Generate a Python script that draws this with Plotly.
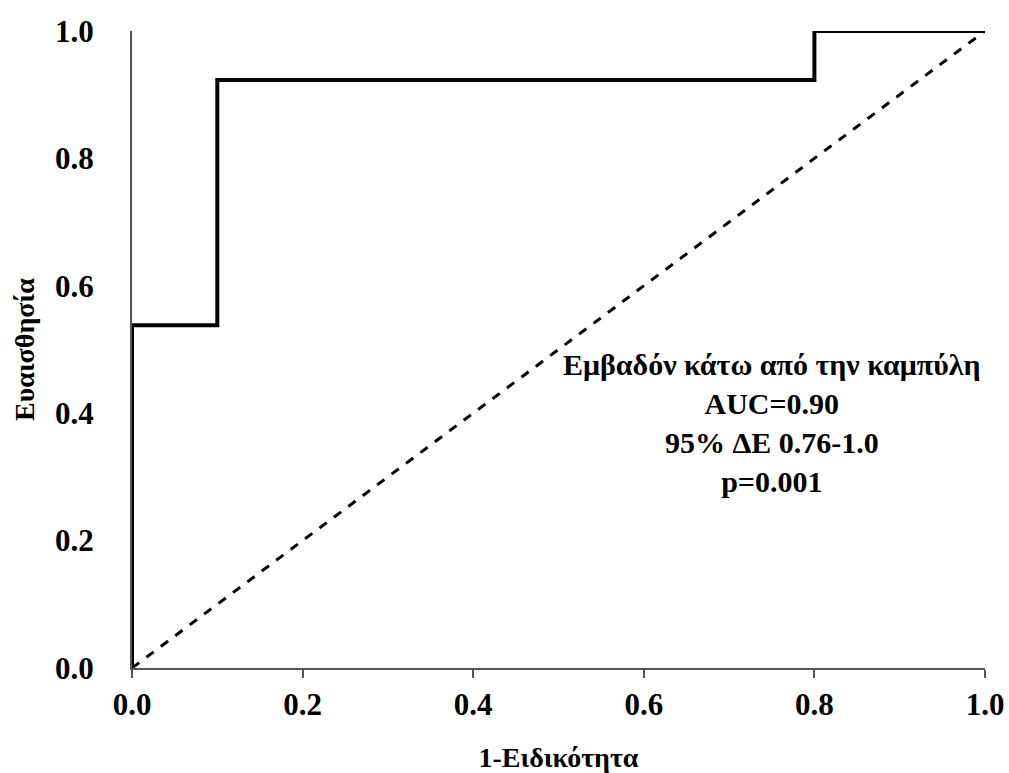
import plotly.graph_objects as go

# ROC curve data (1 - specificity, sensitivity)
fpr = [0.0, 0.0, 0.1, 0.1, 0.8, 0.8, 1.0]
tpr = [0.0, 0.538, 0.538, 0.923, 0.923, 1.0, 1.0]
ref_x = [0.0, 1.0]
ref_y = [0.0, 1.0]
tick_vals = [0.0, 0.2, 0.4, 0.6, 0.8, 1.0]
tick_text = ["0.0", "0.2", "0.4", "0.6", "0.8", "1.0"]
annot_lines = ["Εμβαδόν κάτω από την καμπύλη", "AUC=0.90", "95% ΔΕ 0.76-1.0", "p=0.001"]

FONT = "Liberation Serif"

fig = go.Figure()
fig.add_trace(go.Scatter(x=ref_x, y=ref_y, mode="lines",
                         line=dict(color="black", width=3, dash="dash"),
                         showlegend=False))
fig.add_trace(go.Scatter(x=fpr, y=tpr, mode="lines",
                         line=dict(color="black", width=4),
                         showlegend=False))

fig.add_annotation(x=0.75, y=0.385, xref="x", yref="y",
                   text="<b>" + "<br>".join(annot_lines) + "</b>",
                   showarrow=False, align="center",
                   font=dict(family=FONT, size=30, color="black"))

fig.update_layout(
    width=1009, height=773,
    margin=dict(l=132, r=24, t=31, b=105),
    plot_bgcolor="white", paper_bgcolor="white",
    font=dict(family=FONT, color="black"),
)
fig.update_xaxes(range=[0, 1], tickvals=tick_vals, ticktext=["<b>%s</b>" % t for t in tick_text],
                 showgrid=False, zeroline=False, showline=True, linecolor="#555", linewidth=2,
                 ticks="outside", ticklen=8, tickwidth=2, tickcolor="#555", automargin=False,
                 tickfont=dict(family=FONT, size=31, color="black"),
                 title=dict(text="<b>1-Ειδικότητα</b>", font=dict(family=FONT, size=28, color="black"),
                            standoff=26))
fig.update_yaxes(range=[0, 1], tickvals=tick_vals, ticktext=["<b>%s</b>" % t for t in tick_text],
                 showgrid=False, zeroline=False, showline=True, linecolor="#555", linewidth=2,
                 ticks="", ticklabelstandoff=30, automargin=False,
                 tickfont=dict(family=FONT, size=31, color="black"),
                 title=dict(text="<b>Ευαισθησία</b>", font=dict(family=FONT, size=28, color="black"),
                            standoff=12))

fig.write_html("out.html")
